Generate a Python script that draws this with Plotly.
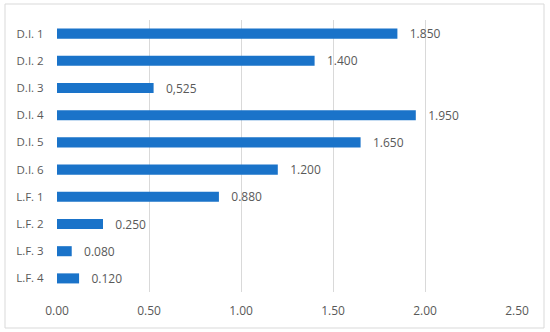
import plotly.graph_objects as go

categories = ["D.I. 1", "D.I. 2", "D.I. 3", "D.I. 4", "D.I. 5", "D.I. 6",
              "L.F. 1", "L.F. 2", "L.F. 3", "L.F. 4"]
values = [1.85, 1.40, 0.525, 1.95, 1.65, 1.20, 0.88, 0.25, 0.08, 0.12]
value_labels = ["1.850", "1.400", "0,525", "1.950", "1.650", "1.200",
                "0.880", "0.250", "0.080", "0.120"]
x_ticks = [0, 0.5, 1.0, 1.5, 2.0, 2.5]
x_tick_labels = ["0.00", "0.50", "1.00", "1.50", "2.00", "2.50"]

W, H = 550, 332
ml, mr, mt, mb = 57, 33, 20, 40
pw, ph = W - ml - mr, H - mt - mb

fig = go.Figure(go.Bar(
    y=categories, x=values, orientation="h",
    marker=dict(color="#1a73c9", line=dict(width=0)),
    text=["   " + t for t in value_labels], textposition="outside",
    constraintext="none",
    textfont=dict(family="Open Sans, sans-serif", size=12, color="#595959"),
    cliponaxis=False,
))

fig.update_layout(
    width=W, height=H,
    margin=dict(l=ml, r=mr, t=mt, b=mb, pad=0),
    paper_bgcolor="white", plot_bgcolor="white",
    bargap=0.63, showlegend=False,
    font=dict(family="Open Sans, sans-serif", size=12, color="#595959"),
    xaxis=dict(range=[0, 2.5], tickvals=x_ticks, ticktext=x_tick_labels,
               showgrid=True, gridcolor="#d9d9d9", gridwidth=1,
               zeroline=False, showline=False, ticks="outside", ticklen=8,
               tickcolor="rgba(0,0,0,0)", automargin=False,
               tickfont=dict(size=12, color="#595959")),
    yaxis=dict(autorange="reversed", showgrid=False, zeroline=False,
               showline=False, ticks="outside", ticklen=10,
               tickcolor="rgba(0,0,0,0)",
               automargin=False,
               tickfont=dict(size=11.5, color="#595959")),
    shapes=[dict(type="rect", xref="paper", yref="paper",
                 x0=(5 - ml) / pw, x1=(544 - ml) / pw,
                 y0=(H - 328 - mb) / ph, y1=(H - 4 - mb) / ph,
                 line=dict(color="#d9d9d9", width=1), fillcolor="rgba(0,0,0,0)",
                 layer="below")],
)

fig.write_html("out.html", config={"displayModeBar": False},
               post_script="document.body.style.margin='0px';document.body.style.overflow='hidden';")
